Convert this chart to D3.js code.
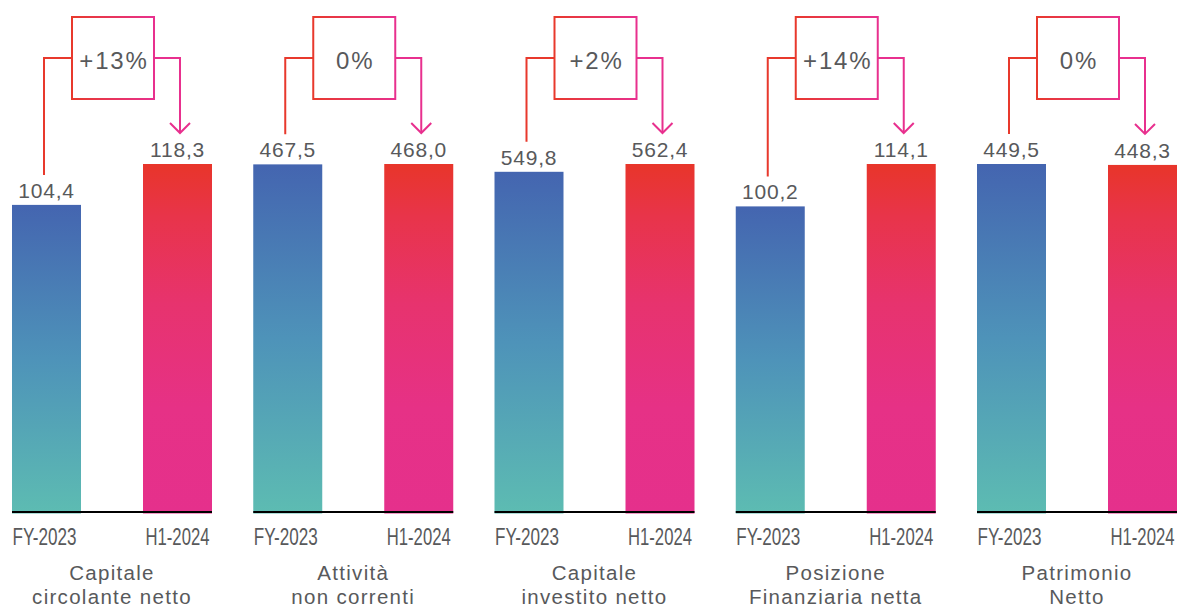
<!DOCTYPE html>
<html>
<head>
<meta charset="utf-8">
<script src="https://cdn.jsdelivr.net/npm/d3@7"></script>
<style>
  html, body { margin: 0; padding: 0; background: #fff; }
  svg { display: block; }
  text { font-family: "Liberation Sans", Arial, Helvetica, sans-serif; fill: #58595b; }
</style>
</head>
<body>
<svg id="chart" width="1178" height="608"></svg>
<script>
// ---- data ----
const categories = ["Capitale circolante netto", "Attività non correnti", "Capitale investito netto", "Posizione Finanziaria netta", "Patrimonio Netto"];
const categoryLines = [["Capitale", "circolante netto"], ["Attività", "non correnti"], ["Capitale", "investito netto"], ["Posizione", "Finanziaria netta"], ["Patrimonio", "Netto"]];
const periods = ["FY-2023", "H1-2024"];
const fy2023 = [104.4, 467.5, 549.8, 100.2, 449.5];
const h12024 = [118.3, 468.0, 562.4, 114.1, 448.3];
const changes = ["+13%", "0%", "+2%", "+14%", "0%"];

// ---- layout ----
const baseY = 512, topY = 164;
const svg = d3.select("#chart");
const defs = svg.append("defs");

const gBlue = defs.append("linearGradient").attr("id", "gBlue").attr("x1", 0).attr("y1", 0).attr("x2", 0).attr("y2", 1);
[[0, "#4465b0"], [0.5, "#4e93b9"], [1, "#5dbcb2"]].forEach(([o, c]) => gBlue.append("stop").attr("offset", o).attr("stop-color", c));
const gRed = defs.append("linearGradient").attr("id", "gRed").attr("x1", 0).attr("y1", 0).attr("x2", 0).attr("y2", 1);
[[0, "#e8352a"], [0.15, "#e8344a"], [0.4, "#e7336e"], [0.7, "#e63186"], [1, "#e5308c"]].forEach(([o, c]) => gRed.append("stop").attr("offset", o).attr("stop-color", c));

const xPanel = d3.scaleBand().domain(categories).range([12, 1177]).paddingInner(41.25 / 241.25).paddingOuter(0);
const xBar = d3.scaleBand().domain(periods).range([0, xPanel.bandwidth()]).paddingInner(62 / 131).paddingOuter(0);
const fmt = d3.formatLocale({ decimal: ",", thousands: ".", grouping: [3], currency: ["€", ""] }).format(".1f");

// annotation geometry (local to each panel)
const boxX = 60, boxW = 82, boxY = 17, boxH = 82, midY = boxY + boxH / 2;
const ga = defs.append("linearGradient").attr("id", "gAnn").attr("gradientUnits", "userSpaceOnUse")
  .attr("x1", boxX).attr("x2", boxX + boxW).attr("y1", 0).attr("y2", 0);
ga.append("stop").attr("offset", 0).attr("stop-color", "#e8392c");
ga.append("stop").attr("offset", 1).attr("stop-color", "#e8308e");

const labelW = 64;

categories.forEach((cat, i) => {
  const vals = [fy2023[i], h12024[i]];
  const y = d3.scaleLinear().domain([0, d3.max(vals)]).range([baseY, topY]);
  const g = svg.append("g").attr("transform", `translate(${xPanel(cat)},0)`);
  const bw = xBar.bandwidth();

  // bars
  g.selectAll("rect.bar").data(periods).enter().append("rect")
    .attr("class", "bar")
    .attr("x", p => xBar(p))
    .attr("y", (p, j) => y(vals[j]))
    .attr("width", bw)
    .attr("height", (p, j) => baseY + 1.5 - y(vals[j]))
    .attr("fill", (p, j) => j === 0 ? "url(#gBlue)" : "url(#gRed)");

  // baseline
  g.append("line").attr("x1", 0).attr("x2", xPanel.bandwidth())
    .attr("y1", baseY).attr("y2", baseY).attr("stroke", "#000").attr("stroke-width", 2.2);

  // value labels
  g.selectAll("text.val").data(periods).enter().append("text")
    .attr("class", "val")
    .attr("x", p => xBar(p) + bw / 2)
    .attr("y", (p, j) => y(vals[j]) - 7)
    .attr("text-anchor", "middle")
    .style("font-size", "21px").style("letter-spacing", "0.8px")
    .text((p, j) => fmt(vals[j]));

  // period labels (condensed via horizontal scale)
  g.selectAll("text.per").data(periods).enter().append("text")
    .attr("class", "per")
    .attr("x", 0).attr("y", 0)
    .attr("text-anchor", "start")
    .style("font-size", "23px")
    .text(p => p)
    .each(function (p, j) {
      const w = this.getComputedTextLength();
      const s = labelW / w;
      const x0 = j === 0 ? xBar(p) + 0.5 : xBar(p) + bw - 2.5 - labelW;
      d3.select(this).attr("transform", `translate(${x0},545) scale(${s},1)`);
    });

  // category labels
  const cx = xPanel.bandwidth() / 2;
  categoryLines[i].forEach((ln, k) => {
    g.append("text").attr("x", cx).attr("y", 580 + k * 24)
      .attr("text-anchor", "middle")
      .style("font-size", "20.5px").style("letter-spacing", "1.3px")
      .text(ln);
  });

  // annotation
  const leftX = xBar(periods[0]) + 32;
  const rightX = xBar(periods[1]) + 37;
  const leftEnd = y(vals[0]) - 30;
  const tipY = y(vals[1]) - 31;
  g.append("path")
    .attr("d", `M${leftX},${leftEnd} V${midY} H${boxX}`)
    .attr("fill", "none").attr("stroke", "#e8392c").attr("stroke-width", 2);
  g.append("rect").attr("x", boxX).attr("y", boxY).attr("width", boxW).attr("height", boxH)
    .attr("fill", "none").attr("stroke", "url(#gAnn)").attr("stroke-width", 2);
  g.append("path")
    .attr("d", `M${boxX + boxW},${midY} H${rightX} V${tipY}`)
    .attr("fill", "none").attr("stroke", "#e8308e").attr("stroke-width", 2);
  g.append("path")
    .attr("d", `M${rightX - 10},${tipY - 10} L${rightX},${tipY} L${rightX + 10},${tipY - 10}`)
    .attr("fill", "none").attr("stroke", "#e8308e").attr("stroke-width", 2);
  g.append("text").attr("x", boxX + boxW / 2 + 1).attr("y", 68.5)
    .attr("text-anchor", "middle")
    .style("font-size", "24px").style("letter-spacing", "1.8px")
    .text(changes[i]);
});
</script>
</body>
</html>
